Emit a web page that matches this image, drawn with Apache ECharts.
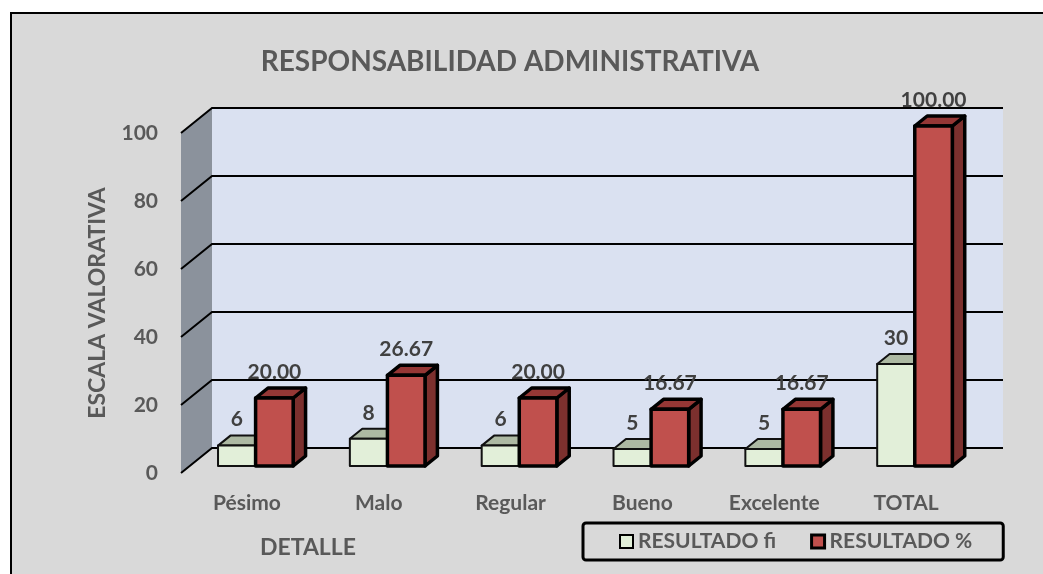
<!DOCTYPE html>
<html><head><meta charset="utf-8">
<script src="https://cdn.jsdelivr.net/npm/echarts@6/dist/echarts.min.js"></script>
<style>html,body{margin:0;padding:0;background:#fff;}#c{width:1043px;height:574px;}</style>
</head><body><div id="c"></div>
<script>
// ---- data ----
const categories = ['Pésimo', 'Malo', 'Regular', 'Bueno', 'Excelente', 'TOTAL'];
const resultadoFi = [6, 8, 6, 5, 5, 30];
const resultadoPct = [20.00, 26.67, 20.00, 16.67, 16.67, 100.00];
const yTicks = [0, 20, 40, 60, 80, 100];
const seriesNames = ['RESULTADO fi', 'RESULTADO %'];
const titleText = 'RESPONSABILIDAD ADMINISTRATIVA';
const xAxisTitle = 'DETALLE';
const yAxisTitle = 'ESCALA VALORATIVA';

// ---- style ----
const FONT = 'Lato, "Liberation Sans", sans-serif';
const DEPTH = [31, -25];
const BAR_T0 = 0.28, BAR_T1 = 0.68;
const BAR_FRAC = 0.285;
const GREEN = { front: '#e2efd9', top: '#adb9a3', side: '#8f9a86', stroke: '#111', lw: 2 };
const RED = { front: '#c0504d', top: '#953735', side: '#7c302e', stroke: '#000', lw: 3.5 };

const chart = echarts.init(document.getElementById('c'), null, { renderer: 'canvas' });

function wallsRender(params, api) {
  const cs = params.coordSys;
  const L = cs.x, R = cs.x + cs.width;
  const yTop = api.coord([0, yTicks[yTicks.length - 1]])[1];
  const yBot = api.coord([0, yTicks[0]])[1];
  const [dx, dy] = DEPTH;
  const children = [
    { type: 'rect', shape: { x: L + dx, y: yTop + dy, width: R - L, height: yBot - yTop }, style: { fill: '#dae1f1' } },
    { type: 'polygon', shape: { points: [[L, yTop], [L + dx, yTop + dy], [L + dx, yBot + dy], [L, yBot]] }, style: { fill: '#8b929c' } }
  ];
  yTicks.forEach(t => {
    const y = api.coord([0, t])[1];
    children.push({ type: 'polyline', shape: { points: [[L, y], [L + dx, y + dy], [R + dx, y + dy]] },
      style: { stroke: '#000', lineWidth: 2, fill: null } });
  });
  return { type: 'group', children };
}

function barRender(kind, pal, labels) {
  return function (params, api) {
    const i = api.value(0), v = api.value(1);
    const base = api.coord([i, 0]);
    const top = api.coord([i, v]);
    const bw = api.size([1, 0])[0];
    const w = bw * BAR_FRAC;
    const ox = DEPTH[0] * BAR_T0, oy = DEPTH[1] * BAR_T0;
    const dx = DEPTH[0] * (BAR_T1 - BAR_T0), dy = DEPTH[1] * (BAR_T1 - BAR_T0);
    const cx = base[0] + ox;
    const x0 = kind === 0 ? cx - w : cx;
    const x1 = kind === 0 ? cx : cx + w;
    const yb = base[1] + oy, yt = top[1] + oy;
    const st = { stroke: pal.stroke, lineWidth: pal.lw, lineJoin: 'round' };
    return {
      type: 'group',
      children: [
        { type: 'polygon', shape: { points: [[x1, yt], [x1 + dx, yt + dy], [x1 + dx, yb + dy], [x1, yb]] }, style: Object.assign({ fill: pal.side }, st) },
        { type: 'polygon', shape: { points: [[x0, yt], [x0 + dx, yt + dy], [x1 + dx, yt + dy], [x1, yt]] }, style: Object.assign({ fill: pal.top }, st) },
        { type: 'rect', shape: { x: x0, y: yt, width: x1 - x0, height: yb - yt }, style: Object.assign({ fill: pal.front }, st) },
        { type: 'text', style: { text: labels[params.dataIndex], x: (x0 + x1) / 2, y: yt - 26, textAlign: 'center', textVerticalAlign: 'middle',
          font: 'bold 21px ' + FONT, fill: '#404040' } }
      ]
    };
  };
}

const fiLabels = resultadoFi.map(v => String(v));
const pctLabels = resultadoPct.map(v => v.toFixed(2));

chart.setOption({
  backgroundColor: '#ffffff',
  animation: false,
  grid: { left: 181, right: 71, top: 133, bottom: 101, containLabel: false },
  xAxis: {
    type: 'category', data: categories,
    axisLine: { show: false }, axisTick: { show: false },
    axisLabel: { margin: 20, fontSize: 21, fontWeight: 'bold', color: '#595959', fontFamily: FONT },
    splitLine: { show: false }
  },
  yAxis: {
    type: 'value', min: 0, max: 100, interval: 20,
    axisLine: { show: false }, axisTick: { show: false }, splitLine: { show: false },
    axisLabel: { margin: 23, fontSize: 21, fontWeight: 'bold', color: '#595959', fontFamily: FONT }
  },
  legend: {
    left: 583, top: 523,
    data: [
      { name: seriesNames[0], itemStyle: { color: GREEN.front, borderColor: '#000', borderWidth: 2 } },
      { name: seriesNames[1], itemStyle: { color: RED.front, borderColor: '#000', borderWidth: 3 } }
    ],
    icon: 'rect', itemWidth: 13, itemHeight: 13, itemGap: 34,
    borderColor: '#000', borderWidth: 3, borderRadius: 3,
    padding: [8, 31, 8, 36],
    textStyle: { color: '#595959', fontWeight: 'bold', fontSize: 21, fontFamily: FONT }
  },
  graphic: [
    { type: 'rect', z: -100, shape: { x: 11, y: 13, width: 1100, height: 700 }, style: { fill: '#d9d9d9', stroke: '#000', lineWidth: 2 } },
    { type: 'text', z: 100, style: { text: titleText, x: 510, y: 62, textAlign: 'center', textVerticalAlign: 'middle', font: 'bold 28px ' + FONT, fill: '#595959' } },
    { type: 'text', z: 100, style: { text: xAxisTitle, x: 308, y: 548, textAlign: 'center', textVerticalAlign: 'middle', font: 'bold 23px ' + FONT, fill: '#595959' } },
    { type: 'text', z: 100, x: 98, y: 303, rotation: Math.PI / 2, style: { text: yAxisTitle, x: 0, y: 0, textAlign: 'center', textVerticalAlign: 'middle', font: 'bold 23px ' + FONT, fill: '#595959' } }
  ],
  series: [
    { type: 'custom', name: 'walls', silent: true, z: 1, renderItem: wallsRender, data: [[0, 0]], encode: { x: 0, y: 1 } },
    { type: 'custom', name: seriesNames[0], z: 2, renderItem: barRender(0, GREEN, fiLabels), encode: { x: 0, y: 1 },
      itemStyle: { color: GREEN.front, borderColor: '#000', borderWidth: 2 },
      data: resultadoFi.map((v, i) => [i, v]) },
    { type: 'custom', name: seriesNames[1], z: 3, renderItem: barRender(1, RED, pctLabels), encode: { x: 0, y: 1 },
      itemStyle: { color: RED.front, borderColor: '#000', borderWidth: 3 },
      data: resultadoPct.map((v, i) => [i, v]) }
  ]
});
</script></body></html>
